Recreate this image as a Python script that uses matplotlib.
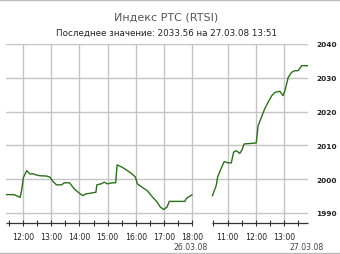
import matplotlib
matplotlib.use("Agg")
import matplotlib.pyplot as plt
from matplotlib.lines import Line2D

title = "Индекс РТС (RTSI)"
subtitle = "Последнее значение: 2033.56 на 27.03.08 13:51"

day1_label = "26.03.08"
day1_times = ["11:24", "11:41", "11:54", "11:57", "12:01", "12:08", "12:15", "12:21",
              "12:29", "12:36", "12:50", "12:57", "13:04", "13:11", "13:22", "13:28",
              "13:39", "13:49", "14:00", "14:07", "14:14", "14:35", "14:37", "14:46",
              "14:53", "14:59", "15:10", "15:17", "15:20", "15:31", "15:42", "15:52",
              "15:59", "16:03", "16:13", "16:24", "16:34", "16:45", "16:52", "16:59",
              "17:06", "17:11", "17:44", "17:48", "17:59"]
day1_values = [1995.4, 1995.4, 1994.6, 1996.5, 2000.5, 2002.5, 2001.5, 2001.6,
               2001.2, 2001.0, 2000.9, 2000.6, 1999.3, 1998.3, 1998.3, 1998.9,
               1998.9, 1997.1, 1995.8, 1995.1, 1995.6, 1996.1, 1998.3, 1998.6,
               1999.1, 1998.6, 1998.9, 1998.9, 2004.2, 2003.5, 2002.5, 2001.5,
               2000.6, 1998.6, 1997.6, 1996.6, 1994.9, 1993.2, 1991.7, 1991.0,
               1991.7, 1993.4, 1993.4, 1994.4, 1995.3]

day2_label = "27.03.08"
day2_times = ["10:28", "10:36", "10:39", "10:46", "10:53", "11:01", "11:08", "11:13",
              "11:19", "11:26", "11:31", "11:35", "12:01", "12:05", "12:12", "12:19",
              "12:26", "12:34", "12:41", "12:51", "12:58", "13:02", "13:09", "13:16",
              "13:23", "13:30", "13:38", "13:51"]
day2_values = [1995.1, 1998.1, 2000.6, 2003.0, 2005.2, 2004.8, 2004.8, 2008.0,
               2008.4, 2007.6, 2008.7, 2010.4, 2010.7, 2015.8, 2018.3, 2020.8,
               2022.7, 2024.7, 2025.7, 2026.0, 2024.7, 2026.2, 2030.1, 2031.6,
               2032.1, 2032.1, 2033.6, 2033.56]

day1_hours = ["12:00", "13:00", "14:00", "15:00", "16:00", "17:00", "18:00"]
day2_hours = ["11:00", "12:00", "13:00"]
day1_minor = ["11:30", "12:30", "13:30", "14:30", "15:30", "16:30", "17:30"]
day2_minor = ["10:30", "11:30", "12:30", "13:30"]
y_ticks = [1990, 2000, 2010, 2020, 2030, 2040]

DAY2_OFFSET = 8.244  # compressed overnight gap on the time axis


def hrs(s):
    h, m = s.split(":")
    return int(h) + int(m) / 60.0


def u1(lst):
    return [hrs(s) for s in lst]


def u2(lst):
    return [hrs(s) + DAY2_OFFSET for s in lst]


W, H = 340, 255
fig = plt.figure(figsize=(W / 100, H / 100), dpi=100)
fig.patch.set_facecolor("white")

left, right, top, bottom = 6, 308, 45, 224
ax = fig.add_axes([left / W, 1 - bottom / H, (right - left) / W, (bottom - top) / H])
ax.set_facecolor("white")

x1 = u1(day1_times)
x2 = u2(day2_times)
ax.set_xlim(x1[0], x2[-1])
ax.set_ylim(1987.0, 2040)

for s in ax.spines.values():
    s.set_visible(False)

# grid
grid_c = "#c4c4c4"
for y in y_ticks:
    ax.axhline(y, color=grid_c, lw=1.0, zorder=1)
for x in u1(day1_hours) + u2(day2_hours):
    ax.axvline(x, color=grid_c, lw=1.0, zorder=1)

# axis line segments per trading day
ymin = ax.get_ylim()[0]
ax.hlines(ymin, x1[0], x1[-1] + 0.02, color="#333333", lw=0.9, zorder=3, clip_on=False)
ax.hlines(ymin, x2[0], x2[-1], color="#333333", lw=0.9, zorder=3, clip_on=False)

# series
lc = "#2f6e1f"
ax.plot(x1, day1_values, color=lc, lw=1.0, zorder=4)
ax.plot(x2, day2_values, color=lc, lw=1.0, zorder=4)

# ticks
xt = u1(day1_hours) + u2(day2_hours)
ax.set_xticks(xt)
ax.set_xticklabels(day1_hours + day2_hours)
ax.set_xticks(u1(day1_minor) + u2(day2_minor), minor=True)
ax.tick_params(axis="x", which="both", direction="inout", length=4, width=0.8,
               color="#333333", labelsize=5.6, labelcolor="#222222", pad=4.5)

ax.yaxis.tick_right()
ax.set_yticks(y_ticks)
ax.set_yticklabels([str(v) for v in y_ticks])
ax.tick_params(axis="y", which="both", length=0, labelsize=5.3, labelcolor="#222222", pad=5.8)
for lab in ax.get_yticklabels():
    lab.set_fontweight("bold")

# date labels under the last tick of each day
ax.text(hrs(day1_hours[-1]) - 0.08, -0.13, day1_label, transform=ax.get_xaxis_transform(),
        ha="center", va="center", fontsize=5.6, color="#444444")
ax.text(x2[-1] - 0.05, -0.13, day2_label, transform=ax.get_xaxis_transform(),
        ha="center", va="center", fontsize=5.6, color="#444444")

fig.text(166 / W, 1 - 18 / H, title, ha="center", va="center", fontsize=8, color="#555555")
fig.text(167 / W, 1 - 33 / H, subtitle, ha="center", va="center", fontsize=6.3, color="#222222")

# frame lines at top and bottom of the image
fig.add_artist(Line2D([0, 1], [1 - 0.5 / H, 1 - 0.5 / H], transform=fig.transFigure, color="#bbbbbb", lw=1))
fig.add_artist(Line2D([0, 1], [1.5 / H, 1.5 / H], transform=fig.transFigure, color="#bbbbbb", lw=1))

fig.savefig("out.png", dpi=100, facecolor="white")
